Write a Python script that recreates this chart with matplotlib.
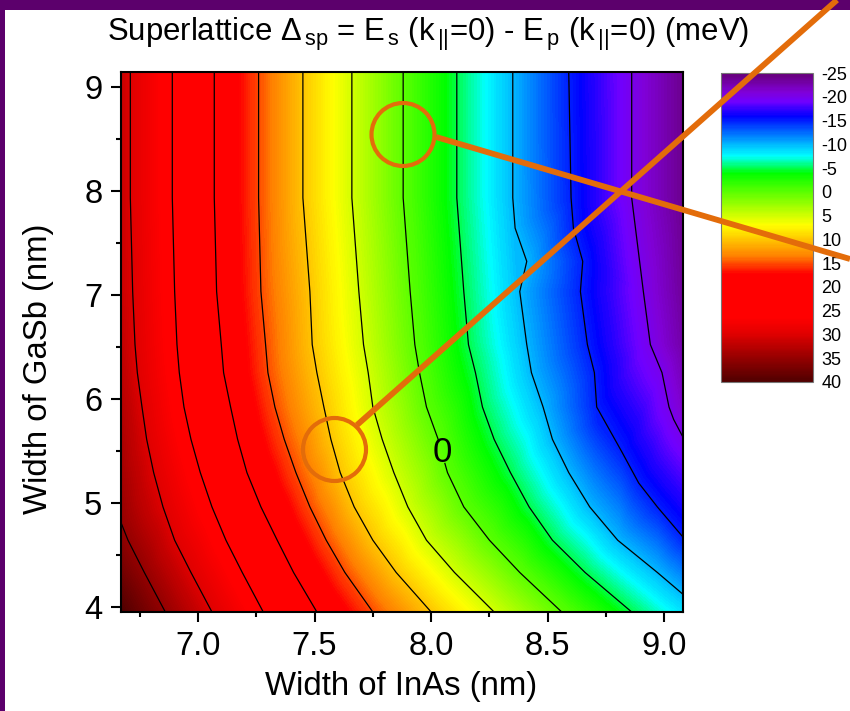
import numpy as np
import matplotlib
matplotlib.use("Agg")
import matplotlib.pyplot as plt
import matplotlib.tri as mtri
from matplotlib.colors import LinearSegmentedColormap, Normalize
from matplotlib.patches import Circle, Rectangle
from matplotlib.ticker import MultipleLocator

plt.rcParams["font.family"] = ["Liberation Sans", "DejaVu Sans"]
plt.rcParams["mathtext.fontset"] = "custom"
plt.rcParams["mathtext.rm"] = "Liberation Sans"
plt.rcParams["mathtext.it"] = "Liberation Sans"
plt.rcParams["axes.unicode_minus"] = False


# =========================
# DATA
# =========================

# GaSb widths where the main contours were read
gasb_rows = [9.14, 7.93, 7.03, 6.52, 6.25, 5.92, 5.61, 5.29, 4.96, 4.64, 4.33, 3.95]

inas_30 = [6.71, 6.71, 6.72, 6.73, 6.74, 6.76, 6.78, 6.81, 6.85, 6.90, 6.97, 7.06]
inas_25 = [6.89, 6.89, 6.90, 6.91, 6.92, 6.94, 6.97, 7.01, 7.06, 7.12, 7.19, 7.28]
inas_20 = [7.07, 7.07, 7.08, 7.10, 7.11, 7.14, 7.17, 7.21, 7.27, 7.34, 7.41, 7.51]
inas_15 = [7.26, 7.26, 7.27, 7.29, 7.30, 7.33, 7.37, 7.42, 7.48, 7.55, 7.63, 7.75]
inas_10 = [7.45, 7.45, 7.48, 7.49, 7.51, 7.54, 7.57, 7.61, 7.67, 7.75, 7.85, 8.00]
inas_5 = [7.66, 7.66, 7.69, 7.71, 7.73, 7.75, 7.79, 7.84, 7.90, 7.98, 8.10, 8.27]
inas_0 = [7.88, 7.88, 7.91, 7.93, 7.95, 7.98, 8.03, 8.07, 8.14, 8.25, 8.38, 8.56]
inas_m5 = [8.11, 8.11, 8.14, 8.16, 8.19, 8.22, 8.27, 8.34, 8.42, 8.52, 8.66, 8.86]

# these contours leave through the plot edge, or have kinks
gasb_35 = [4.81, 4.64, 4.33, 3.95]
inas_35 = [6.67, 6.70, 6.77, 6.86]

gasb_m10 = [9.14, 7.93, 7.64, 7.32, 7.03, 6.52, 6.25, 5.92, 5.61, 5.29, 4.96, 4.64, 4.33, 4.12]
inas_m10 = [8.35, 8.35, 8.36, 8.41, 8.38, 8.41, 8.43, 8.48, 8.52, 8.59, 8.68, 8.80, 8.97, 9.08]

gasb_m15 = [9.14, 7.93, 7.64, 7.32, 7.03, 6.52, 6.25, 5.92, 5.78, 5.48, 5.19, 4.96, 4.67]
inas_m15 = [8.59, 8.60, 8.61, 8.65, 8.64, 8.67, 8.70, 8.71, 8.72, 8.82, 8.89, 8.97, 9.08]

gasb_m20 = [9.14, 7.93, 7.03, 6.52, 6.25, 5.92, 5.80, 5.63]
inas_m20 = [8.86, 8.86, 8.91, 8.94, 8.99, 9.02, 9.04, 9.08]

# values along the left and right plot edges
inas_left = 6.67
gasb_left = [9.14, 7.93, 7.03, 6.52, 5.92, 5.29, 4.33, 3.95]
delta_left = [31.5, 31.5, 31.5, 32, 33, 34, 37.5, 40]

inas_right = 9.08
gasb_right = [9.14, 7.93, 7.03, 6.52, 5.92, 3.95]
delta_right = [-24, -24, -23.5, -23, -21.5, -8.5]

contour_levels = [-20, -15, -10, -5, 5, 10, 15, 20, 25, 30, 35]

cbar_labels = [-25, -20, -15, -10, -5, 0, 5, 10, 15, 20, 25, 30, 35, 40]

# colour stops of the scale bar
cmap_values = [-25, -21, -19, -16, -7.6, -3.9, 7, 13.6, 17.2, 26.5, 30, 33.5, 40]
cmap_colors = ["#660077", "#8000d8", "#7000ff", "#0000ff", "#00ffff", "#00ff00",
               "#ffff00", "#ff8000", "#ff0000", "#ff0000", "#e00000", "#aa0000", "#500000"]

ORANGE = "#e36c0a"
PURPLE = "#5c006c"


# =========================
# COLLECT POINTS
# =========================

x_pts = []
y_pts = []
z_pts = []

main_contours = [(30, inas_30), (25, inas_25), (20, inas_20), (15, inas_15),
                 (10, inas_10), (5, inas_5), (0, inas_0), (-5, inas_m5)]

for level, inas in main_contours:
    x_pts += inas
    y_pts += gasb_rows
    z_pts += [level] * len(inas)

for level, inas, gasb in [(35, inas_35, gasb_35), (-10, inas_m10, gasb_m10),
                          (-15, inas_m15, gasb_m15), (-20, inas_m20, gasb_m20)]:
    x_pts += inas
    y_pts += gasb
    z_pts += [level] * len(inas)

x_pts += [inas_left] * len(gasb_left) + [inas_right] * len(gasb_right)
y_pts += gasb_left + gasb_right
z_pts += delta_left + delta_right

x_pts = np.array(x_pts)
y_pts = np.array(y_pts)
z_pts = np.array(z_pts, dtype=float)

# squeeze y for the meshing, so triangles follow the contours
triangles = mtri.Triangulation(x_pts, y_pts * 0.25).triangles
mesh = mtri.Triangulation(x_pts, y_pts, triangles)


# =========================
# PLOT
# =========================

norm = Normalize(-25, 40)
stops = [(norm(v), c) for v, c in zip(cmap_values, cmap_colors)]
cmap = LinearSegmentedColormap.from_list("rainbow_sp", stops, N=512)

W, H = 850, 711
fig = plt.figure(figsize=(W / 100, H / 100), dpi=100, facecolor="white")

ax = fig.add_axes([121 / W, (H - 612) / H, 562 / W, 540 / H])

fill_levels = np.arange(-25, 40.25, 0.25)
filled = ax.tricontourf(mesh, z_pts, levels=fill_levels, cmap=cmap, norm=norm)
ax.tricontour(mesh, z_pts, levels=sorted(contour_levels), colors="black",
              linewidths=0.9, linestyles="solid")

# the zero contour carries the only label
zero_line = ax.tricontour(mesh, z_pts, levels=[0], colors="black",
                          linewidths=0.9, linestyles="solid")

ax.set_xlim(inas_left, inas_right)
ax.set_ylim(3.95, 9.14)

zero_labels = ax.clabel(zero_line, manual=[(8.01, 5.46)], fmt="%d", fontsize=25,
                        inline=True, inline_spacing=1)
for label in zero_labels:
    label.set_rotation(0)

ax.xaxis.set_major_locator(MultipleLocator(0.5))
ax.xaxis.set_minor_locator(MultipleLocator(0.25))
ax.yaxis.set_major_locator(MultipleLocator(1))
ax.yaxis.set_minor_locator(MultipleLocator(0.5))
ax.tick_params(which="major", length=7.5, width=1.5, labelsize=23.5, pad=6)
ax.tick_params(which="minor", length=3.8, width=1.5)
for spine in ax.spines.values():
    spine.set_linewidth(1.5)

ax.set_xlabel("Width of InAs (nm)", fontsize=23.7)
ax.xaxis.set_label_coords(0.498, -0.110)
ax.set_ylabel("Width of GaSb (nm)", fontsize=23.7)
ax.yaxis.set_label_coords(-0.119, 0.45)

fig.text(428 / W, 1 - 34 / H,
         r"Superlattice $\Delta_{\,sp}$ = E$_{\,s}$ (k$_{\,||}$=0) - E$_{\,p}$ (k$_{\,||}$=0) (meV)",
         fontsize=22.4, ha="center", va="center")

# scale bar
cax = fig.add_axes([721 / W, (H - 382) / H, 92 / W, 309 / H])
bar = fig.colorbar(filled, cax=cax, ticks=cbar_labels)
cax.invert_yaxis()
cax.set_yticklabels([str(v) for v in cbar_labels])
cax.tick_params(length=0, labelsize=13, pad=6)
bar.outline.set_edgecolor("#777777")
bar.outline.set_linewidth(0.8)


# =========================
# SLIDE OVERLAY (pixel coordinates)
# =========================

overlay = fig.add_axes([0, 0, 1, 1], zorder=10)
overlay.set_xlim(0, W)
overlay.set_ylim(H, 0)
overlay.axis("off")

overlay.add_patch(Rectangle((0, 0), W, 10, color=PURPLE, lw=0))
overlay.add_patch(Rectangle((0, 0), 5, H, color=PURPLE, lw=0))

overlay.add_patch(Circle((403, 134.5), 31.5, fill=False, edgecolor=ORANGE, linewidth=3))
overlay.add_patch(Circle((334.5, 449.5), 31.5, fill=False, edgecolor=ORANGE, linewidth=3))
overlay.plot([436, 850], [137, 259], color=ORANGE, linewidth=4.2, solid_capstyle="butt")
overlay.plot([357, 837], [425, 0], color=ORANGE, linewidth=4.2, solid_capstyle="butt")

fig.savefig("out.png", dpi=100)
